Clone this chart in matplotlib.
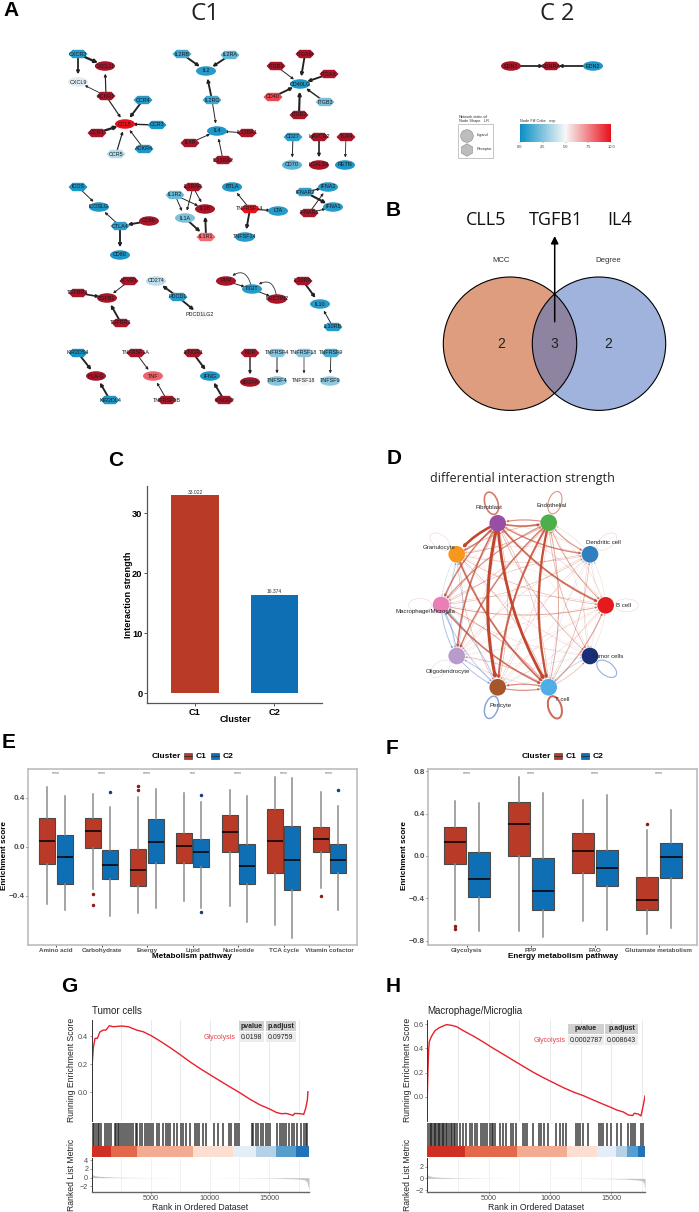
import numpy as np
import matplotlib
matplotlib.use("Agg")
import matplotlib.pyplot as plt
from matplotlib.colors import LinearSegmentedColormap, Normalize
from matplotlib.cm import ScalarMappable
from matplotlib.patches import Circle, Ellipse, FancyArrowPatch, Rectangle, RegularPolygon

W, H = 699, 1212
plt.rcParams["font.family"] = ["Liberation Sans", "DejaVu Sans"]

# ---------- panel A data
node_names = [
    "CXCR3", "CXCL11", "CXCL9", "ACKR1", "CCL5", "CCR4", "CCR3", "ACKR4", "CCR5", "CCR1",
    "IL2RB", "IL2RA", "IL2", "IL2RG", "IL4", "IL13RA1", "IL4R", "IL13RA2",
    "ITGAM", "ITGB1", "ITGAX", "CD40LG", "CD40", "ITGB3", "ITGB2",
    "CD27", "CD70", "HAVCR2", "LGALS9", "TLR4", "RETN",
    "ICOS", "ICOSLG", "CTLA4", "CD86", "CD80",
    "IL1RAP", "IL1R2", "IL1B", "IL1A", "IL1R1",
    "BTLA", "TNFRSF14", "LTA", "TNFSF14",
    "IFNAR2", "IFNA2", "IFNA1", "IFNAR1",
    "TGFBR3", "TGFB1", "ACVR1", "TGFBR2",
    "CD274", "PDCD1", "PDCD1LG2",
    "PVR", "TIGIT", "NECTIN2",
    "IL10RA", "IL10", "IL10RB",
    "KIR2DS4", "HLA-G", "KIR2DL4",
    "TNFRSF1A", "TNF", "TNFRSF1B",
    "IFNGR1", "IFNG", "IFNGR2",
    "KDR", "VEGFA", "TNFRSF4", "TNFSF4", "TNFRSF18", "TNFSF18", "TNFRSF9", "TNFSF9",
    "EDN1", "EDNRA", "EDN2",
]
# expression on the 0-10 colour scale, 11 = off scale dark red
node_exp = [
    0.6, 11, 4.5, 11, 10, 0.6, 0.4, 0.4, 3.6, 11,
    1.2, 1.8, 0.6, 1.2, 0.4, 11, 11, 11,
    11, 11, 11, 0.4, 8.8, 2.4, 11,
    0.8, 1.8, 11, 11, 11, 0.4,
    0.4, 0.4, 0.8, 11, 0.4,
    11, 2.0, 11, 2.4, 8.0,
    0.4, 10, 0.6, 0.6,
    0.8, 0.6, 0.6, 11,
    11, 11, 11, 11,
    3.8, 0.6, 5,
    11, 0.6, 11,
    11, 0.6, 0.6,
    0.2, 11, 0.4,
    11, 8.2, 11,
    11, 0.4, 11,
    11, 11, 2.6, 2.6, 2.6, 5, 1.4, 2.8,
    11, 11, 0.4,
]
receptors = [
    "CXCR3", "ACKR1", "CCR4", "CCR3", "ACKR4", "CCR5", "CCR1", "IL2RB", "IL2RA", "IL2RG",
    "IL13RA1", "IL4R", "IL13RA2", "ITGAM", "ITGB1", "ITGAX", "CD40", "ITGB3", "ITGB2",
    "CD27", "HAVCR2", "TLR4", "ICOS", "CTLA4", "IL1RAP", "IL1R2", "IL1R1", "TNFRSF14",
    "IFNAR2", "IFNAR1", "TGFBR3", "ACVR1", "TGFBR2", "PDCD1", "IL10RA", "IL10RB",
    "KIR2DS4", "KIR2DL4", "TNFRSF1A", "TNFRSF1B", "IFNGR1", "IFNGR2", "KDR", "TNFRSF4",
    "TNFRSF18", "TNFRSF9", "EDNRA",
]
edge_from = [
    "CXCR3", "CXCR3", "ACKR1", "ACKR1", "ACKR1", "CCR4", "CCR3", "ACKR4", "CCR5", "CCR1",
    "IL2RB", "IL2RA", "IL2RG", "IL2RG", "IL13RA1", "IL4R", "IL13RA2",
    "ITGAM", "ITGB1", "ITGAX", "CD40", "ITGB3", "ITGB2", "CD27", "HAVCR2", "TLR4",
    "ICOS", "CTLA4", "CD86", "CTLA4", "IL1RAP", "IL1RAP", "IL1R2", "IL1R2", "IL1A", "IL1R1",
    "TNFRSF14", "TNFRSF14", "TNFRSF14", "IFNAR2", "IFNAR2", "IFNAR1", "IFNAR1",
    "TGFBR3", "ACVR1", "TGFBR2", "PDCD1", "PDCD1", "PVR", "TIGIT", "IL10RA", "IL10RB",
    "KIR2DS4", "KIR2DL4", "TNFRSF1A", "TNFRSF1B", "IFNGR1", "IFNGR2", "KDR", "TNFRSF4",
    "TNFRSF18", "TNFRSF9", "EDN1", "EDN2",
]
edge_to = [
    "CXCL11", "CXCL9", "CXCL11", "CXCL9", "CCL5", "CCL5", "CCL5", "CCL5", "CCL5", "CCL5",
    "IL2", "IL2", "IL2", "IL4", "IL4", "IL4", "IL4",
    "CD40LG", "CD40LG", "CD40LG", "CD40LG", "CD40LG", "CD40LG", "CD70", "LGALS9", "RETN",
    "ICOSLG", "ICOSLG", "CTLA4", "CD80", "IL1B", "IL1A", "IL1B", "IL1A", "IL1R1", "IL1B",
    "BTLA", "LTA", "TNFSF14", "IFNA2", "IFNA1", "IFNA2", "IFNA1",
    "TGFB1", "TGFB1", "TGFB1", "CD274", "PDCD1LG2", "TIGIT", "NECTIN2", "IL10", "IL10",
    "HLA-G", "HLA-G", "TNF", "TNF", "IFNG", "IFNG", "VEGFA", "TNFSF4",
    "TNFSF18", "TNFSF9", "EDNRA", "EDNRA",
]
edge_weight = [
    2, 1.5, 1, .7, 1, 1.6, 1.2, .8, 1, 2,
    1.6, 1.6, 1.6, .8, .8, .8, .8,
    1.6, .8, 1.6, 1.6, 1.2, 1.8, .8, 1.4, .7,
    .8, .8, 1.6, 1.6, .8, .8, .8, .8, 1.6, 1.6,
    .8, 1, 1.6, 1, 1.8, .8, .8,
    1.4, .8, 1.6, 1.6, 1.6, .8, .8, 1.6, .8,
    1.6, 1.6, .8, .8, 1.6, 1.6, 1.2, .8,
    .6, .7, 1.5, 1.5,
]
# TIGIT loops back to PVR and NECTIN2 along curved edges
curved_from = ["TIGIT", "NECTIN2"]
curved_to = ["PVR", "TIGIT"]

# pixel layout of the network, same order as node_names
node_xy = [
    (78, 54), (105, 66), (78, 82), (106, 96), (125, 124), (143, 100), (157, 125), (144, 149), (116, 154), (97, 133),
    (182, 54), (230, 55), (206, 71), (212, 100), (217, 131), (247, 133), (190, 143), (223, 160),
    (305, 54), (276, 66), (329, 74), (300, 84), (273, 97), (325, 102), (299, 115),
    (293, 137), (292, 165), (319, 137), (319, 165), (346, 137), (345, 165),
    (78, 187), (99, 207), (120, 226), (149, 221), (120, 255),
    (193, 187), (175, 195), (205, 209), (185, 218), (206, 237),
    (232, 187), (250, 209), (278, 211), (245, 237),
    (305, 192), (328, 187), (333, 207), (309, 213),
    (78, 293), (107, 298), (129, 281), (121, 323),
    (156, 281), (178, 297), (200, 315),
    (226, 281), (252, 289), (277, 299),
    (303, 281), (320, 304), (333, 327),
    (78, 353), (96, 376), (110, 400),
    (136, 353), (153, 376), (167, 400),
    (193, 353), (210, 376), (224, 400),
    (250, 353), (250, 382), (277, 353), (277, 381), (304, 353), (304, 381), (331, 353), (330, 381),
    (511, 66), (551, 66), (593, 66),
]

# ---------- panel B data
venn_set_names = ["MCC", "Degree"]
venn_counts = [2, 3, 2]
venn_genes = ["CLL5", "TGFB1", "IL4"]

# ---------- panel C data
cluster_names = ["C1", "C2"]
strength = [33.022, 16.374]

# ---------- panel D data
cell_names = ["Fibroblast", "Endothelial", "Dendritic cell", "B cell", "Tumor cells",
              "T cell", "Pericyte", "Oligodendrocyte", "Macrophage/Microglia", "Granulocyte"]
cell_colors = ["#984ea3", "#4daf4a", "#2f7fc1", "#e41a1c", "#1a2f7a",
               "#4eaee5", "#a65628", "#b79ccb", "#ea7fb8", "#f7981c"]
diff_fib = [0, .55, .45, .6, .25, .9, 1.0, .55, .5, .85]
diff_end = [.4, 0, .35, .3, .25, .75, .65, .5, .4, .25]
diff_den = [.12, .12, 0, .12, .15, -.12, .15, .15, .2, .12]
diff_b = [.15, .12, .12, 0, .08, .15, .12, .1, .15, .1]
diff_tum = [.1, .1, -.08, .12, 0, -.18, -.1, -.08, .08, .08]
diff_t = [.2, .3, .22, .35, .22, 0, .4, .22, .3, .22]
diff_per = [.22, .15, .1, .12, -.1, .4, 0, -.22, -.28, -.12]
diff_oli = [.15, .12, .1, .1, -.08, .15, -.3, 0, -.3, -.2]
diff_mac = [.25, .2, .2, .3, .12, .55, -.25, -.3, 0, -.2]
diff_gra = [.45, .25, .18, .22, .12, .6, .22, -.15, -.15, 0]
diff_loop = [.5, .35, .12, .12, -.35, .6, -.45, -.12, .12, .12]

cell_xy = [(497.7, 523.3), (548.7, 522.7), (590, 554.3), (605.7, 605.3), (590, 656),
           (548.7, 687.3), (497.7, 687.3), (456.7, 656), (441, 605), (456.7, 554.3)]
cell_label_xy = [(488.7, 507.7), (551.7, 505.3), (603.3, 543), (623.3, 605.3), (607.7, 656.3),
                 (562.3, 699.3), (500.7, 705), (447.7, 671.3), (425, 611), (439.3, 548)]

# ---------- panel E data
e_pathways = ["Amino acid", "Carbohydrate", "Energy", "Lipid", "Nucleotide", "TCA cycle", "Vitamin cofactor"]
e_sig = ["****", "****", "****", "***", "****", "****", "****"]
e_c1_high = [.484, .427, .403, .435, .46, .569, .441]
e_c1_q3 = [.231, .231, -.022, .114, .256, .305, .158]
e_c1_med = [.049, .128, -.193, .008, .12, .044, .063]
e_c1_q1 = [-.139, -.011, -.318, -.131, -.041, -.212, -.041]
e_c1_low = [-.465, -.343, -.536, -.44, -.482, -.637, -.337]
e_c1_fliers = [[], [-.384, -.476], [.49, .465], [], [], [], [-.405]]
e_c2_high = [.414, .321, .47, .365, .414, .561, .332]
e_c2_q3 = [.095, -.024, .223, .063, .019, .166, .019]
e_c2_med = [-.087, -.15, .035, -.046, -.16, -.109, -.109]
e_c2_q1 = [-.30, -.261, -.131, -.169, -.302, -.354, -.218]
e_c2_low = [-.512, -.56, -.498, -.503, -.61, -.74, -.517]
e_c2_fliers = [[], [.441], [], [.422, -.528], [], [], [.465]]

# ---------- panel F data
f_pathways = ["Glycolysis", "PPP", "FAO", "Glutamate metabolism"]
f_sig = ["****", "****", "****", "****"]
f_c1_high = [.52, .748, .53, .249]
f_c1_q3 = [.271, .508, .221, -.196]
f_c1_med = [.136, .306, .044, -.42]
f_c1_q1 = [-.076, .003, -.158, -.514]
f_c1_low = [-.606, -.707, -.615, -.735]
f_c1_fliers = [[-.663, -.688], [], [], [.30]]
f_c2_high = [.505, .60, .577, .435]
f_c2_q3 = [.035, -.019, .057, .126]
f_c2_med = [-.218, -.334, -.114, -.009]
f_c2_q1 = [-.385, -.514, -.287, -.208]
f_c2_low = [-.713, -.767, -.697, -.678]
f_c2_fliers = [[], [], [], []]

# ---------- panel G data
g_rank = [0, 56, 140, 281, 478, 703, 985, 1210, 1490, 1830, 2530, 3100, 3800, 4360, 5040, 5770,
          6610, 7460, 8300, 9150, 10050, 10840, 11680, 12520, 13370, 14210, 15060, 15620, 16040,
          16460, 17030, 17170, 17680, 17930, 18100, 18240, 18290]
g_score = [0, .219, .32, .386, .386, .433, .445, .445, .476, .469, .474, .469, .445, .433, .405, .367,
           .321, .271, .219, .171, .124, .083, .04, -.002, -.048, -.088, -.119, -.143, -.152,
           -.15, -.164, -.15, -.152, -.157, -.114, -.055, .005]
g_hits = [85, 225, 340, 505, 650, 790, 1125, 1270, 1435, 1635, 1970, 2085, 2200, 2340, 2505, 2675,
          2845, 2985, 3185, 3295, 3465, 3745, 3860, 4085, 4225, 4535, 4705, 4845, 4985, 5155, 5495,
          5660, 6055, 6255, 6420, 6620, 6985, 7185, 7520, 7690, 7970, 8310, 8730, 8875, 9100, 9435,
          9635, 10365, 10705, 11070, 11635, 11745, 12110, 12310, 12480, 13520, 13660, 13860, 14085,
          14280, 14505, 14705, 14930, 15070, 15635, 15915, 16085, 16255, 16420, 16705, 16900, 17100,
          17325, 17745, 17945, 18110, 18225]
g_band_edges = [0, 1635, 3800, 8530, 11970, 13890, 15580, 17270, 18380]
g_metric_rank = [0, 100, 500, 1000, 2000, 3000, 5000, 8000, 12000, 15000, 16000, 17500, 18000, 18200, 18380]
g_metric = [.9, .6, .35, .25, .12, .08, .03, 0, -.02, -.08, -.15, -.3, -.5, -.9, -2.8]

# ---------- panel H data
h_rank = [0, 54, 109, 163, 353, 625, 978, 1304, 1576, 1984, 2391, 2935, 3750, 4565, 5380, 6196, 7011,
          7826, 8641, 9457, 10272, 11087, 11902, 12717, 13533, 14348, 15027, 15435, 15978, 16386,
          16739, 16875, 17201, 17418, 17554, 17690, 17745]
h_score = [0, .222, .386, .455, .501, .545, .57, .584, .595, .589, .578, .545, .501, .452, .40, .351, .301,
           .252, .203, .159, .118, .077, .041, .011, -.025, -.06, -.088, -.107, -.123, -.148,
           -.153, -.134, -.14, -.156, -.093, -.025, .008]
h_hits = [80, 190, 300, 410, 515, 625, 735, 840, 950, 1060, 1170, 1275, 1385, 1520, 1630, 1765, 1900,
          2010, 2145, 2285, 2390, 2665, 2935, 3150, 3480, 3640, 3860, 4050, 4350, 4510, 4675, 4835,
          5110, 5245, 5380, 5515, 5925, 6140, 6415, 6850, 7010, 7200, 7770, 7935, 8100, 8585, 9075,
          9240, 9510, 9835, 10490, 10815, 11085, 11305, 12120, 12280, 12445, 12715, 13100, 13965,
          14130, 14350, 14675, 15000, 15490, 15815, 16385, 16575, 16740, 16930, 17445, 17610]
h_band_edges = [0, 3070, 7340, 11360, 13800, 15380, 16300, 17200, 17745]
h_metric_rank = [0, 100, 500, 1000, 2000, 3000, 5000, 8000, 12000, 15000, 16000, 17000, 17500, 17650, 17745]
h_metric = [.7, .45, .25, .18, .1, .06, .02, 0, -.02, -.06, -.12, -.25, -.4, -.8, -2.0]

band_colors = ["#cf3024", "#e4694a", "#f3ac92", "#fbe0d2", "#e5eef7", "#b6d1e6", "#579dce", "#2272b6"]

RED = "#b93a26"
BLUE = "#0f6fb5"

fig = plt.figure(figsize=(W / 100, H / 100), dpi=100, facecolor="white")


def px_axes(left, top, right, bottom, **kw):
    return fig.add_axes([left / W, 1 - bottom / H, (right - left) / W, (bottom - top) / H], **kw)


# overlay in pixel coordinates for the network, venn, circle plot and loose text
ov = fig.add_axes([0, 0, 1, 1], zorder=10)
ov.set_xlim(0, W)
ov.set_ylim(H, 0)
ov.axis("off")
ov.patch.set_alpha(0)

for letter, lx, ly in [("A", 10.7, 10), ("B", 392.7, 210), ("C", 116, 460.7), ("D", 394, 459),
                       ("E", 9, 742.3), ("F", 392, 748), ("G", 69.5, 987), ("H", 393, 987)]:
    ov.text(lx, ly, letter, fontsize=15, fontweight="bold", ha="center", va="center")

# ---------- A
ov.text(205, 14, "C1", fontsize=17.5, family="Open Sans", ha="center", va="center", color="#222222")
ov.text(557, 14, "C 2", fontsize=17, family="Open Sans", ha="center", va="center", color="#222222")

exp_cmap = LinearSegmentedColormap.from_list("exp", ["#0a8fc4", "#f7f7f7", "#e8101a"])
exp_cmap.set_over("#a81529")
exp_norm = Normalize(0, 10)
pos = dict(zip(node_names, node_xy))

for a, b, w in zip(edge_from, edge_to, edge_weight):
    ov.add_patch(FancyArrowPatch(pos[a], pos[b], arrowstyle="-|>", mutation_scale=3 + w * 0.7,
                                 shrinkA=3, shrinkB=5.5, lw=w * 0.85, color="#222222", zorder=2))
for a, b in zip(curved_from, curved_to):
    ov.add_patch(FancyArrowPatch(pos[a], pos[b], arrowstyle="-|>", mutation_scale=3.5,
                                 connectionstyle="arc3,rad=0.9", shrinkA=3, shrinkB=6, lw=0.6,
                                 color="#333333", zorder=2))

hex_dx = np.array([-9.5, -5.5, 5.5, 9.5, 5.5, -5.5])
hex_dy = np.array([0, -4.2, -4.2, 0, 4.2, 4.2])
for name, exp, (nx, ny) in zip(node_names, node_exp, node_xy):
    fill = exp_cmap(exp_norm(exp))
    if name in receptors:
        ov.fill(nx + hex_dx, ny + hex_dy, color=fill, lw=0, zorder=3)
    else:
        ov.add_patch(Ellipse((nx, ny), 20, 9.5, facecolor=fill, edgecolor="none", zorder=3))
    ov.text(nx, ny, name, fontsize=3.9, ha="center", va="center", color="#1a1a1a", zorder=4)

# node legend
ov.text(459, 116.5, "Network.static.sif", fontsize=2.8, va="center", color="#333333")
ov.text(459, 121, "Node Shape   LR", fontsize=2.8, va="center", color="#333333")
ov.add_patch(Rectangle((458, 124), 35, 34, facecolor="white", edgecolor="#bbbbbb", lw=0.6))
ov.add_patch(Circle((467, 136), 6.3, facecolor="#bdbdbd", edgecolor="#888888", lw=0.4))
ov.add_patch(RegularPolygon((467, 150), 6, radius=6.3, facecolor="#bdbdbd", edgecolor="#888888", lw=0.4))
ov.text(477, 135, "Ligand", fontsize=2.8, va="center", color="#333333")
ov.text(477, 149, "Receptor", fontsize=2.8, va="center", color="#333333")
ov.text(520, 121, "Node Fill Color   exp", fontsize=2.8, va="center", color="#333333")
cax = px_axes(520, 124, 611, 142)
cbar = fig.colorbar(ScalarMappable(exp_norm, exp_cmap), cax=cax, orientation="horizontal")
cbar.set_ticks([0, 2.5, 5, 7.5, 10], labels=["0.0", "2.5", "5.0", "7.5", "10.0"])
cbar.ax.tick_params(labelsize=2.8, length=1, width=0.3, pad=1, colors="#333333")
cbar.outline.set_visible(False)

# ---------- B
left_c = (510, 343.7)
right_c = (599, 343.7)
ov.add_patch(Circle(left_c, 66.7, facecolor="#dd9d7e", edgecolor="none", zorder=1))
ov.add_patch(Circle(right_c, 66.7, facecolor="#9fb3dc", edgecolor="none", zorder=1))
both = Circle(right_c, 66.7, facecolor="#8e83a0", edgecolor="none", zorder=1.5)
ov.add_patch(both)
both.set_clip_path(Circle(left_c, 66.7, transform=ov.transData))
ov.add_patch(Circle(left_c, 66.7, facecolor="none", edgecolor="black", lw=0.8, zorder=2))
ov.add_patch(Circle(right_c, 66.7, facecolor="none", edgecolor="black", lw=0.8, zorder=2))
for cnt, cx in zip(venn_counts, [501, 554.7, 608]):
    ov.text(cx, 343.7, str(cnt), fontsize=10, ha="center", va="center", color="#222222", zorder=3)
for nm, cx in zip(venn_set_names, [501.3, 608]):
    ov.text(cx, 261, nm, fontsize=5.6, ha="center", va="center", color="#333333")
for g, cx in zip(venn_genes, [486, 555.7, 619.7]):
    ov.text(cx, 220, g, fontsize=13, family="Open Sans", ha="center", va="center", color="#111111")
ov.add_patch(FancyArrowPatch((554.7, 321.7), (554.7, 236), arrowstyle="-|>", mutation_scale=11,
                             shrinkA=0, shrinkB=0, lw=1.1, color="black", zorder=4))

# ---------- C
ax_c = px_axes(147.3, 486, 322, 703)
ax_c.bar([1, 2], strength, width=0.6, color=[RED, BLUE])
ax_c.set_xlim(0.4, 2.6)
ax_c.set_ylim(-1.65, 34.55)
ax_c.set_xticks([1, 2], cluster_names)
ax_c.set_yticks([0, 10, 20, 30])
for i, v in enumerate(strength):
    ax_c.text(i + 1, v + 0.1, f"{v:.3f}", fontsize=3.6, ha="center", va="bottom", color="#333333")
ax_c.spines[["top", "right"]].set_visible(False)
ax_c.spines[["left", "bottom"]].set_color("#555555")
ax_c.spines[["left", "bottom"]].set_linewidth(0.9)
ax_c.tick_params(labelsize=6.7, length=2, width=0.7, color="#555555", pad=1.5)
for lab in ax_c.get_xticklabels() + ax_c.get_yticklabels():
    lab.set_fontweight("bold")
ax_c.set_xlabel("Cluster", fontsize=6.6, fontweight="bold", va="center")
ax_c.set_ylabel("Interaction strength", fontsize=6.6, fontweight="bold", va="center")
ax_c.xaxis.set_label_coords(235, 720, transform=ov.transData)
ax_c.yaxis.set_label_coords(128.3, 594.3, transform=ov.transData)

# ---------- D
ov.text(522, 478.3, "differential interaction strength", fontsize=9, family="Open Sans",
        ha="center", va="center", color="#222222")
diff_rows = [diff_fib, diff_end, diff_den, diff_b, diff_tum, diff_t, diff_per, diff_oli, diff_mac, diff_gra]
links = sorted(((abs(w), i, j, w) for i, row in enumerate(diff_rows) for j, w in enumerate(row) if w != 0))
for _, i, j, w in links:
    col = "#c2452d" if w > 0 else "#4a76c9"
    ov.add_patch(FancyArrowPatch(cell_xy[i], cell_xy[j], arrowstyle="-|>", mutation_scale=2.5,
                                 connectionstyle="arc3,rad=0.12", shrinkA=5, shrinkB=6,
                                 lw=abs(w) * 2.2, color=col, alpha=min(1, 0.18 + abs(w)), zorder=2))
circle_c = np.array([523.3, 605.0])
for w, (cx, cy) in zip(diff_loop, cell_xy):
    out = np.array([cx, cy]) - circle_c
    out = out / np.linalg.norm(out)
    mid = np.array([cx, cy]) + out * 21
    col = "#c2452d" if w > 0 else "#4a76c9"
    ov.add_patch(Ellipse(mid, 23, 13, angle=np.degrees(np.arctan2(out[1], out[0])), facecolor="none",
                         edgecolor=col, lw=abs(w) * 2.4, alpha=min(1, 0.2 + abs(w)), zorder=2))
for nm, col, xy, lxy in zip(cell_names, cell_colors, cell_xy, cell_label_xy):
    ov.add_patch(Circle(xy, 8.3, facecolor=col, edgecolor="none", zorder=3))
    ov.text(lxy[0], lxy[1], nm, fontsize=4.4, ha="center", va="center", color="#222222", zorder=4)


# ---------- E, F
def box_stats(low, q1, med, q3, high, fliers):
    return [dict(whislo=a, q1=b, med=c, q3=d, whishi=e, fliers=f)
            for a, b, c, d, e, f in zip(low, q1, med, q3, high, fliers)]


def draw_boxes(ax, stats, offset, face, flier_col, width):
    positions = np.arange(1, len(stats) + 1) + offset
    ax.bxp(stats, positions=positions, widths=width, patch_artist=True, showcaps=False, manage_ticks=False,
           boxprops=dict(facecolor=face, edgecolor="#4a4a4a", lw=0.8),
           medianprops=dict(color="black", lw=1.1),
           whiskerprops=dict(color="#8c8c8c", lw=1.1),
           flierprops=dict(marker="o", ms=1.5, mfc=flier_col, mec=flier_col))


def style_box_axes(ax, labels, yticks, xlabel, label_x, ylabel_x, sig, sig_y):
    ax.set_xticks(np.arange(1, len(labels) + 1), labels)
    ax.set_yticks(yticks)
    for s in ax.spines.values():
        s.set_color("#bdbdbd")
        s.set_linewidth(1.2)
    ax.tick_params(axis="y", labelsize=5.8, length=1.5, width=0.5, pad=1, labelcolor="#4d4d4d")
    ax.tick_params(axis="x", labelsize=4.5, length=1.2, width=0.5, pad=1, labelcolor="#4d4d4d")
    for lab in ax.get_xticklabels() + ax.get_yticklabels():
        lab.set_fontweight("bold")
    ax.set_xlabel(xlabel, fontsize=5.9, fontweight="bold", va="center")
    ax.set_ylabel("Enrichment score", fontsize=5.9, fontweight="bold", va="center")
    ax.xaxis.set_label_coords(label_x, 957, transform=ov.transData)
    ax.yaxis.set_label_coords(ylabel_x, 855.5, transform=ov.transData)
    for i, s in enumerate(sig):
        ax.text(i + 1, sig_y, s, fontsize=3.6, ha="center", va="center", color="#555555")


def cluster_legend(x_title, x_k1, x_t1, x_k2, x_t2):
    ov.text(x_title, 756, "Cluster", fontsize=6, fontweight="bold", ha="center", va="center")
    for kx, col in [(x_k1, RED), (x_k2, BLUE)]:
        ov.add_patch(Rectangle((kx - 4, 753), 8, 6, facecolor=col, edgecolor="#333333", lw=0.4))
        ov.plot([kx - 4, kx + 4], [756, 756], color="#222222", lw=0.5)
    ov.text(x_t1, 756, cluster_names[0], fontsize=6, fontweight="bold", ha="center", va="center")
    ov.text(x_t2, 756, cluster_names[1], fontsize=6, fontweight="bold", ha="center", va="center")


ax_e = px_axes(28.3, 769, 356.7, 945)
draw_boxes(ax_e, box_stats(e_c1_low, e_c1_q1, e_c1_med, e_c1_q3, e_c1_high, e_c1_fliers), -0.19, RED, "#8e1a1a", 0.35)
draw_boxes(ax_e, box_stats(e_c2_low, e_c2_q1, e_c2_med, e_c2_q3, e_c2_high, e_c2_fliers), 0.19, BLUE, "#1a3f7a", 0.35)
ax_e.set_xlim(0.393, 7.6)
ax_e.set_ylim(-0.8, 0.632)
style_box_axes(ax_e, e_pathways, [-0.4, 0, 0.4], "Metabolism pathway", 192, 4.5, e_sig, 0.596)
cluster_legend(166, 187.7, 201, 215, 228)

ax_f = px_axes(428.3, 769.3, 697.3, 945)
draw_boxes(ax_f, box_stats(f_c1_low, f_c1_q1, f_c1_med, f_c1_q3, f_c1_high, f_c1_fliers), -0.1875, RED, "#8e1a1a", 0.344)
draw_boxes(ax_f, box_stats(f_c2_low, f_c2_q1, f_c2_med, f_c2_q3, f_c2_high, f_c2_fliers), 0.1875, BLUE, "#1a3f7a", 0.344)
ax_f.set_xlim(0.40, 4.604)
ax_f.set_ylim(-0.8425, 0.82)
style_box_axes(ax_f, f_pathways, [-0.8, -0.4, 0, 0.4, 0.8], "Energy metabolism pathway", 562.7, 404, f_sig, 0.78)
cluster_legend(536, 558, 571, 585, 598)


# ---------- G, H
def gsea_panel(left, right, title, rank, score, hits, band_edges, metric_rank, metric, xmax,
               ylim_top, score_ticks, ylim_metric, metric_ticks, label_x, ylabel_x, tick_col="#4d4d4d"):
    ax1 = px_axes(left, 1020, right, 1120.7)
    ax1.plot(rank, score, color="#e8202a", lw=1.0)
    ax1.set_xlim(0, xmax)
    ax1.set_ylim(*ylim_top)
    ax1.set_xticks([])
    ax1.set_yticks(score_ticks)
    for gx in range(2500, int(xmax), 2500):
        ax1.axvline(gx, color="#e6e6e6", lw=0.6, zorder=0)
    ax1.spines[["top", "right", "bottom"]].set_visible(False)
    ax1.spines["left"].set_linewidth(0.7)
    ax1.spines["left"].set_color("#333333")
    ax1.tick_params(labelsize=5.2, length=1.5, width=0.4, pad=1, labelcolor=tick_col, color=tick_col)
    ax1.set_ylabel("Running Enrichment Score", fontsize=6.2, va="center", color="#222222")
    ax1.yaxis.set_label_coords(ylabel_x, 1070, transform=ov.transData)
    ax1.text(0, 1.09, title, transform=ax1.transAxes, fontsize=7, va="center", color="#222222")

    ax2 = px_axes(left, 1123, right, 1156.7)
    ax2.vlines(hits, 0.32, 1, color="#1a1a1a", lw=1.1, alpha=0.85)
    ax2.barh(0.16, np.diff(band_edges), left=band_edges[:-1], height=0.32, color=band_colors, lw=0)
    ax2.set_xlim(0, xmax)
    ax2.set_ylim(0, 1)
    ax2.axis("off")

    ax3 = px_axes(left, 1158.3, right, 1191.7)
    ax3.fill_between(metric_rank, 0, metric, color="#c4c4c4", lw=0)
    ax3.set_xlim(0, xmax)
    ax3.set_ylim(*ylim_metric)
    ax3.set_xticks([5000, 10000, 15000])
    ax3.set_yticks(metric_ticks)
    for gx in range(2500, int(xmax), 2500):
        ax3.axvline(gx, color="#ececec", lw=0.5, zorder=0)
    ax3.spines[["top", "right"]].set_visible(False)
    ax3.spines["left"].set_linewidth(0.7)
    ax3.spines["left"].set_color("#333333")
    ax3.spines["bottom"].set_linewidth(1.0)
    ax3.spines["bottom"].set_color("#666666")
    ax3.tick_params(labelsize=5.2, length=1.5, width=0.4, pad=1, labelcolor=tick_col, color=tick_col)
    ax3.set_xlabel("Rank in Ordered Dataset", fontsize=6.2, va="center", color="#222222")
    ax3.set_ylabel("Ranked List Metric", fontsize=6.2, va="center", color="#222222")
    ax3.xaxis.set_label_coords(label_x, 1207, transform=ov.transData)
    ax3.yaxis.set_label_coords(ylabel_x, 1175, transform=ov.transData)


def gsea_table(x0, x1, x2, x3, y0, pval, padj, lab_x):
    head = "#d0d0d0"
    cell = "#ececec"
    for xa, xb, txt, val in [(x0, x1, "pvalue", pval), (x2, x3, "p.adjust", padj)]:
        ov.add_patch(Rectangle((xa, y0), xb - xa, 10, facecolor=head, edgecolor="none", zorder=5))
        ov.add_patch(Rectangle((xa, y0 + 11), xb - xa, 10, facecolor=cell, edgecolor="none", zorder=5))
        ov.text((xa + xb) / 2, y0 + 5, txt, fontsize=5, fontweight="bold", ha="center", va="center", color="#222222", zorder=6)
        ov.text((xa + xb) / 2, y0 + 16, val, fontsize=5, ha="center", va="center", color="#222222", zorder=6)
    ov.text(lab_x, y0 + 16, "Glycolysis", fontsize=5, ha="right", va="center", color="#e8404a", zorder=6)


gsea_panel(91.7, 309, "Tumor cells", g_rank, g_score, g_hits, g_band_edges, g_metric_rank, g_metric, 18380,
           (-0.202, 0.517), [0, 0.2, 0.4], (-3.23, 4.46), [-2, 0, 2, 4], 200, 71.7)
gsea_table(238.7, 264, 265.7, 296, 1021.3, "0.0198", "0.09759", 235.7)

gsea_panel(427.3, 645, "Macrophage/Microglia", h_rank, h_score, h_hits, h_band_edges, h_metric_rank, h_metric, 17745,
           (-0.195, 0.633), [0, 0.2, 0.4, 0.6], (-2.29, 3.43), [-2, 0, 2], 536, 407)
gsea_table(567.7, 604, 605, 638.3, 1024, "0.0002787", "0.008643", 565.3)

fig.savefig("out.png", dpi=100)
